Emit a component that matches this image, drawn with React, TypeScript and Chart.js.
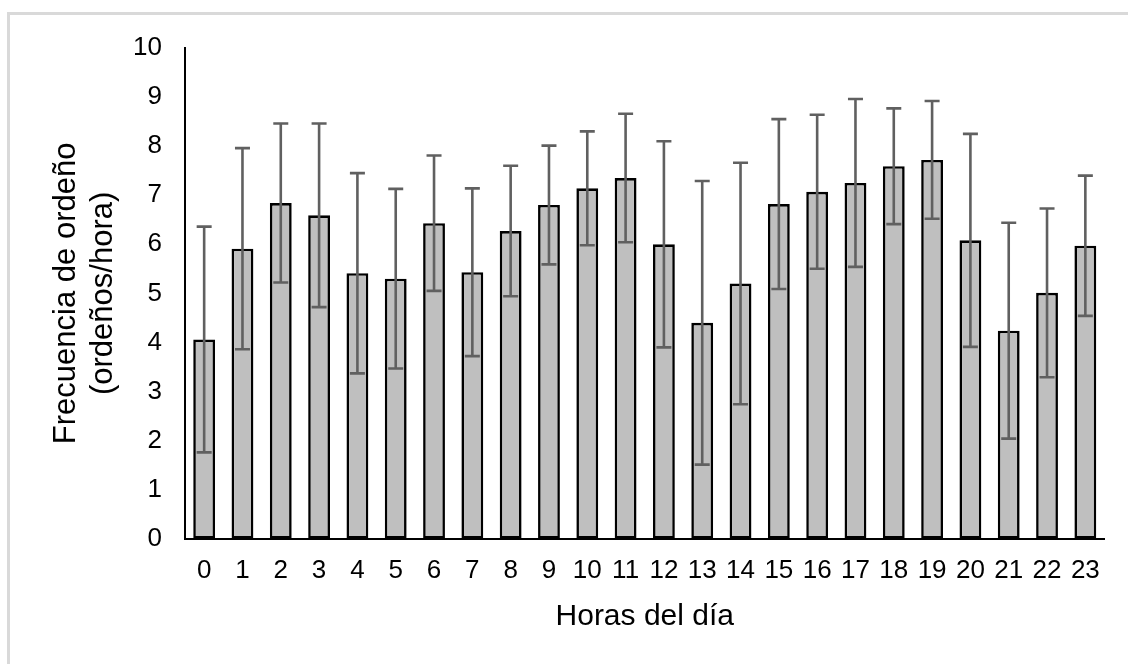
import { useEffect, useRef } from 'react';
import { Chart, registerables } from 'chart.js';

Chart.register(...registerables);

const hours = ['0','1','2','3','4','5','6','7','8','9','10','11','12','13','14','15','16','17','18','19','20','21','22','23'];
const means = [4.06, 5.91, 6.84, 6.59, 5.41, 5.30, 6.43, 5.43, 6.27, 6.80, 7.14, 7.35, 6.00, 4.40, 5.20, 6.82, 7.07, 7.25, 7.59, 7.72, 6.08, 4.24, 5.01, 5.97];
const sds = [2.30, 2.05, 1.62, 1.87, 2.04, 1.83, 1.38, 1.71, 1.33, 1.21, 1.16, 1.31, 2.10, 2.89, 2.46, 1.73, 1.57, 1.71, 1.18, 1.20, 2.17, 2.20, 1.72, 1.43];
const yMin = 0;
const yMax = 10;
const yStep = 1;
const xTitle = 'Horas del día';
const yTitle = ['Frecuencia de ordeño', '(ordeños/hora)'];

const FONT = "'Liberation Sans', Arial, sans-serif";

const framePlugin = {
  id: 'frame',
  beforeDraw(chart: any) {
    const ctx = chart.ctx;
    ctx.save();
    ctx.fillStyle = '#ffffff';
    ctx.fillRect(0, 0, chart.width, chart.height);
    ctx.strokeStyle = '#d9d9d9';
    ctx.lineWidth = 3;
    ctx.strokeRect(8.5, 13.5, 3000, 3000);
    ctx.restore();
  },
};

const errorBarPlugin = {
  id: 'errorBars',
  afterDatasetsDraw(chart: any) {
    const ctx = chart.ctx;
    const meta = chart.getDatasetMeta(0);
    const ys = chart.scales.y;
    ctx.save();
    ctx.strokeStyle = '#606060';
    ctx.lineWidth = 2.6;
    meta.data.forEach((bar: any, i: number) => {
      const x = bar.x;
      const top = ys.getPixelForValue(means[i] + sds[i]);
      const bot = ys.getPixelForValue(means[i] - sds[i]);
      const cap = 7.5;
      ctx.beginPath();
      ctx.moveTo(x, top);
      ctx.lineTo(x, bot);
      ctx.moveTo(x - cap, top);
      ctx.lineTo(x + cap, top);
      ctx.moveTo(x - cap, bot);
      ctx.lineTo(x + cap, bot);
      ctx.stroke();
    });
    ctx.restore();
  },
};

export default function App() {
  const ref = useRef<HTMLCanvasElement | null>(null);

  useEffect(() => {
    document.body.style.margin = '0';
    if (!ref.current) return;
    const chart = new Chart(ref.current, {
      type: 'bar',
      data: {
        labels: hours,
        datasets: [
          {
            data: means,
            backgroundColor: '#bfbfbf',
            borderColor: '#000000',
            borderWidth: 2.6,
            borderSkipped: false,
            categoryPercentage: 1,
            barPercentage: 0.57,
          },
        ],
      },
      options: {
        responsive: false,
        animation: false,
        layout: { padding: { top: 48, right: 23.5, left: 0, bottom: 0 } },
        plugins: {
          legend: { display: false },
          tooltip: { enabled: false },
        },
        scales: {
          x: {
            grid: { display: false, drawTicks: false },
            border: { display: true, color: '#000000', width: 2 },
            ticks: {
              color: '#000000',
              font: { family: FONT, size: 26 },
              padding: 17,
              maxRotation: 0,
              autoSkip: false,
            },
            title: {
              display: true,
              text: xTitle,
              color: '#000000',
              font: { family: FONT, size: 30 },
              padding: { top: 0, bottom: 29 },
            },
            afterFit(scale: any) {
              scale.height = 664 - 538.7;
            },
          },
          y: {
            min: yMin,
            max: yMax,
            grid: { display: false, drawTicks: false },
            border: { display: true, color: '#000000', width: 2 },
            ticks: {
              stepSize: yStep,
              color: '#000000',
              font: { family: FONT, size: 26 },
              padding: 23,
            },
            title: {
              display: true,
              text: yTitle,
              color: '#000000',
              font: { family: FONT, size: 31 },
              padding: { top: 48, bottom: 0 },
            },
            afterFit(scale: any) {
              scale.width = 185;
            },
          },
        },
      },
      plugins: [framePlugin, errorBarPlugin],
    });
    return () => chart.destroy();
  }, []);

  return (
    <div style={{ width: 1128, height: 664 }}>
      <canvas ref={ref} width={1128} height={664} style={{ display: 'block' }} />
    </div>
  );
}
